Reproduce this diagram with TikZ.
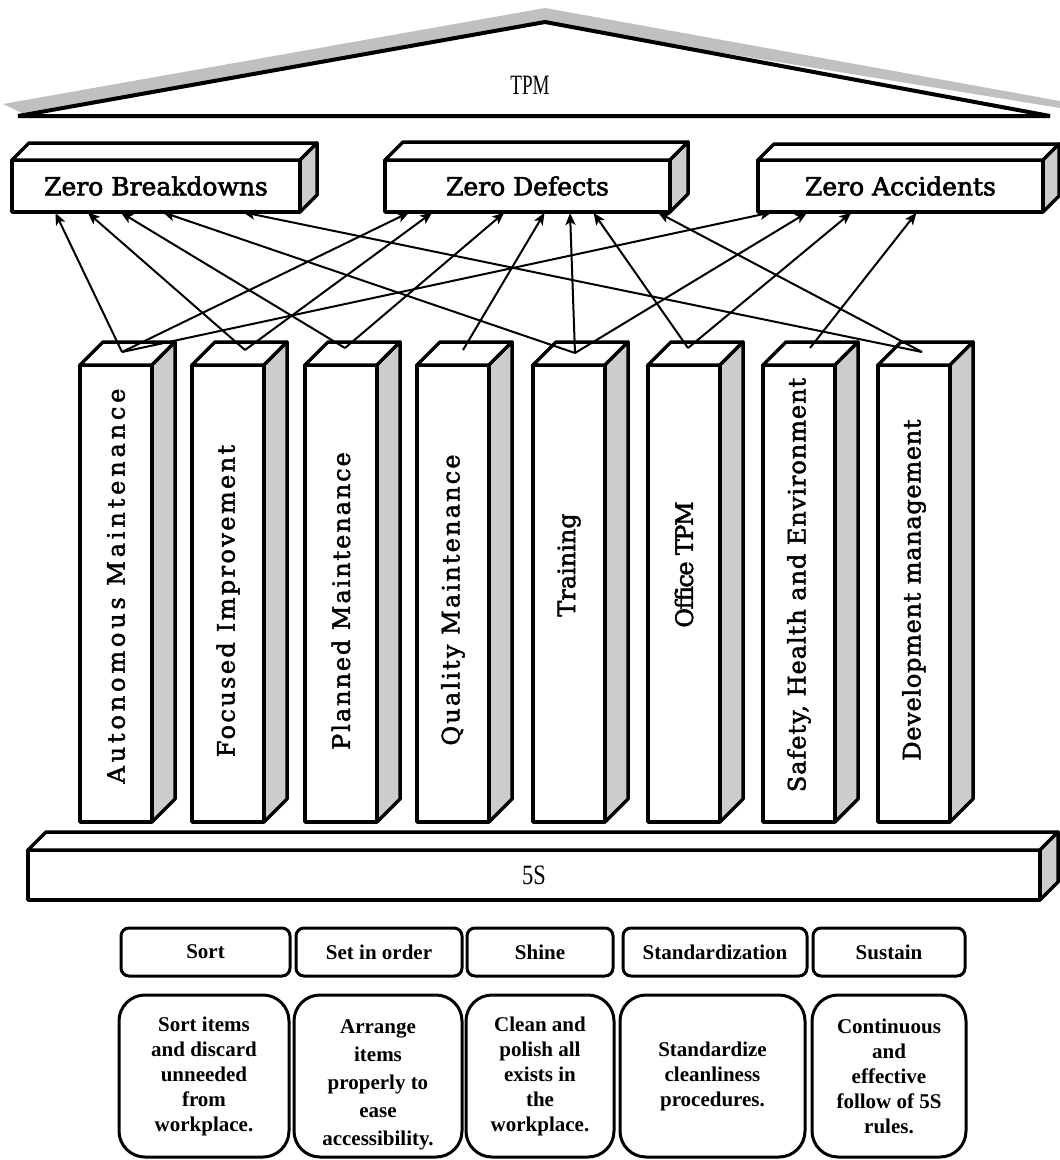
\documentclass[tikz,border=0pt]{standalone}
\usepackage{fontspec}
\usepackage{graphicx}
\usetikzlibrary{arrows.meta,calc}
\newfontfamily\slab[FakeBold=2.5]{DejaVu Serif}
\newfontfamily\slabp[FakeBold=2]{DejaVu Serif}
\newfontfamily\tms{Liberation Serif}
\definecolor{sidegray}{HTML}{CCCCCC}
\definecolor{roofgray}{HTML}{C0C0C0}
\newcommand\cuboidfaces[3]{%
  \filldraw[line width=#3, fill=white, line join=round] (#1.north west) -- ++(#2,-#2) -- ([shift={(#2,-#2)}]#1.north east) -- (#1.north east) -- cycle;
  \filldraw[line width=#3, fill=sidegray, line join=round] (#1.north east) -- ([shift={(#2,-#2)}]#1.north east) -- ([shift={(#2,-#2)}]#1.south east) -- (#1.south east) -- cycle;
}
% #1 letterspace, #2 space before (moves text up), #3 space after (moves text down), #4 text
\newcommand\pilltext[4]{\rotatebox{90}{\hspace*{#2}{\slabp\fontsize{24}{24}\selectfont\addfontfeature{LetterSpace=#1}#4}\hspace*{#3}}}
\tikzset{
  frontface/.style={draw=black, fill=white, inner sep=0pt, outer sep=0pt, line join=round},
  topbox/.style={frontface, line width=3.5pt, minimum height=52pt, font=\slab\fontsize{25}{25}\selectfont},
  pillar/.style={frontface, line width=3.5pt, minimum width=72pt, minimum height=457pt},
  basebar/.style={frontface, line width=3.5pt, minimum width=1012pt, minimum height=50pt},
  sslabel/.style={draw=black, fill=white, line width=3pt, rounded corners=8pt, minimum height=48pt, inner sep=0pt, outer sep=0pt, font=\tms\bfseries\fontsize{21}{25}\selectfont},
  ssdesc/.style={draw=black, fill=white, line width=3pt, rounded corners=26pt, minimum height=162pt, inner sep=0pt, outer sep=0pt, align=center, font=\tms\bfseries\fontsize{21}{25}\selectfont},
  arr/.style={line width=2pt, -{Stealth[length=12pt,width=10pt,inset=3pt]}, shorten >=1pt}
}
\begin{document}
\begin{tikzpicture}[x=1pt,y=-1pt]
\useasboundingbox (0,0) rectangle (1060,1160);
% roof
\fill[roofgray] (3,104) -- (545,8) -- (1060,101) -- (1060,108) -- (545,24) -- (22,113) -- cycle;
\draw[line width=4pt, line join=miter, fill=white] (18,116) -- (545,22) -- (1050,116) -- cycle;
\node[font=\tms\fontsize{28}{28}\selectfont] (tpm) at (530,85) {\scalebox{0.68}[1]{TPM}};
% top boxes
\node[topbox, minimum width=288pt] (zb) at (156,186) {Zero Breakdowns};
\cuboidfaces{zb}{17}{3.5pt}
\node[topbox, minimum width=285pt] (zd) at (527.5,186) {Zero Defects};
\cuboidfaces{zd}{18}{3.5pt}
\node[topbox, minimum width=285pt] (za) at (900.5,186) {Zero Accidents};
\cuboidfaces{za}{16}{3.5pt}
% pillars
\node[pillar] (p1) at (116,593.5) {\pilltext{16}{15pt}{0pt}{Autonomous Maintenance}};
\cuboidfaces{p1}{23}{3.5pt}
\node[pillar] (p2) at (228,593.5) {\pilltext{10}{0pt}{15pt}{Focused Improvement}};
\cuboidfaces{p2}{23}{3.5pt}
\node[pillar] (p3) at (341,593.5) {\pilltext{8}{0pt}{15pt}{Planned Maintenance}};
\cuboidfaces{p3}{23}{3.5pt}
\node[pillar] (p4) at (453,593.5) {\pilltext{9}{0pt}{13pt}{Quality Maintenance}};
\cuboidfaces{p4}{23}{3.5pt}
\node[pillar] (p5) at (569,593.5) {\pilltext{0}{57pt}{0pt}{Training}};
\cuboidfaces{p5}{23}{3.5pt}
\node[pillar] (p6) at (684,593.5) {\pilltext{-6}{58pt}{0pt}{Office TPM}};
\cuboidfaces{p6}{23}{3.5pt}
\node[pillar] (p7) at (799,593.5) {\pilltext{4}{17pt}{0pt}{Safety, Health and Environment}};
\cuboidfaces{p7}{23}{3.5pt}
\node[pillar] (p8) at (914,593.5) {\pilltext{3}{7pt}{0pt}{Development management}};
\cuboidfaces{p8}{23}{3.5pt}
% pillar top points
\coordinate (t1) at ([shift={(6,-13)}]p1.north);
\coordinate (t2) at ([shift={(17,-15)}]p2.north);
\coordinate (t3) at ([shift={(4,-17)}]p3.north);
\coordinate (t4) at ([shift={(10,-15)}]p4.north);
\coordinate (t5) at ([shift={(6,-12)}]p5.north);
\coordinate (t6) at ([shift={(4,-17)}]p6.north);
\coordinate (t7) at ([shift={(11,-17)}]p7.north);
\coordinate (t8) at ([shift={(8,-13)}]p8.north);
% arrows
\draw[arr] (t1) -- ([xshift=43pt]zb.south west);
\draw[arr] (t1) -- ([xshift=25pt]zd.south west);
\draw[arr] (t1) -- ([xshift=15pt]za.south west);
\draw[arr] (t2) -- ([xshift=75pt]zb.south west);
\draw[arr] (t2) -- ([xshift=48pt]zd.south west);
\draw[arr] (t3) -- ([xshift=108pt]zb.south west);
\draw[arr] (t3) -- ([xshift=120pt]zd.south west);
\draw[arr] (t4) -- ([xshift=160pt]zd.south west);
\draw[arr] (t5) -- ([xshift=150pt]zb.south west);
\draw[arr] (t5) -- ([xshift=185pt]zd.south west);
\draw[arr] (t5) -- ([xshift=50pt]za.south west);
\draw[arr] (t6) -- ([xshift=208pt]zd.south west);
\draw[arr] (t6) -- ([xshift=94pt]za.south west);
\draw[arr] (t7) -- ([xshift=159pt]za.south west);
\draw[arr] (t8) -- ([xshift=230pt]zb.south west);
\draw[arr] (t8) -- ([xshift=272pt]zd.south west);
% base 5S
\node[basebar] (ss) at (534,875) {\tms\fontsize{28}{28}\selectfont\scalebox{0.8}[1]{5S}};
\cuboidfaces{ss}{18}{3.5pt}
% 5S labels
\node[sslabel, minimum width=169pt] (l1) at (205.5,952) {Sort};
\node[sslabel, minimum width=166pt] (l2) at (379,952) {Set in order};
\node[sslabel, minimum width=146pt] (l3) at (540,952) {Shine};
\node[sslabel, minimum width=184pt] (l4) at (715,952) {Standardization};
\node[sslabel, minimum width=152pt] (l5) at (889,952) {Sustain};
% descriptions
\node[ssdesc, minimum width=170pt] (d1) at (204,1076) {Sort items\\and discard\\unneeded\\from\\workplace.};
\node[ssdesc, minimum width=168pt] (d2) at (378,1076) {\raisebox{-8pt}[\height][\depth]{\fontsize{21}{28}\selectfont\begin{tabular}{@{}c@{}}Arrange\\items\\properly to\\ease\\accessibility.\end{tabular}}};
\node[ssdesc, minimum width=148pt] (d3) at (540,1076) {Clean and\\polish all\\exists in\\the\\workplace.};
\node[ssdesc, minimum width=185pt] (d4) at (712.5,1076) {Standardize\\cleanliness\\procedures.};
\node[ssdesc, minimum width=154pt] (d5) at (889,1076) {Continuous\\and\\effective\\follow of 5S\\rules.};
\end{tikzpicture}
\end{document}
